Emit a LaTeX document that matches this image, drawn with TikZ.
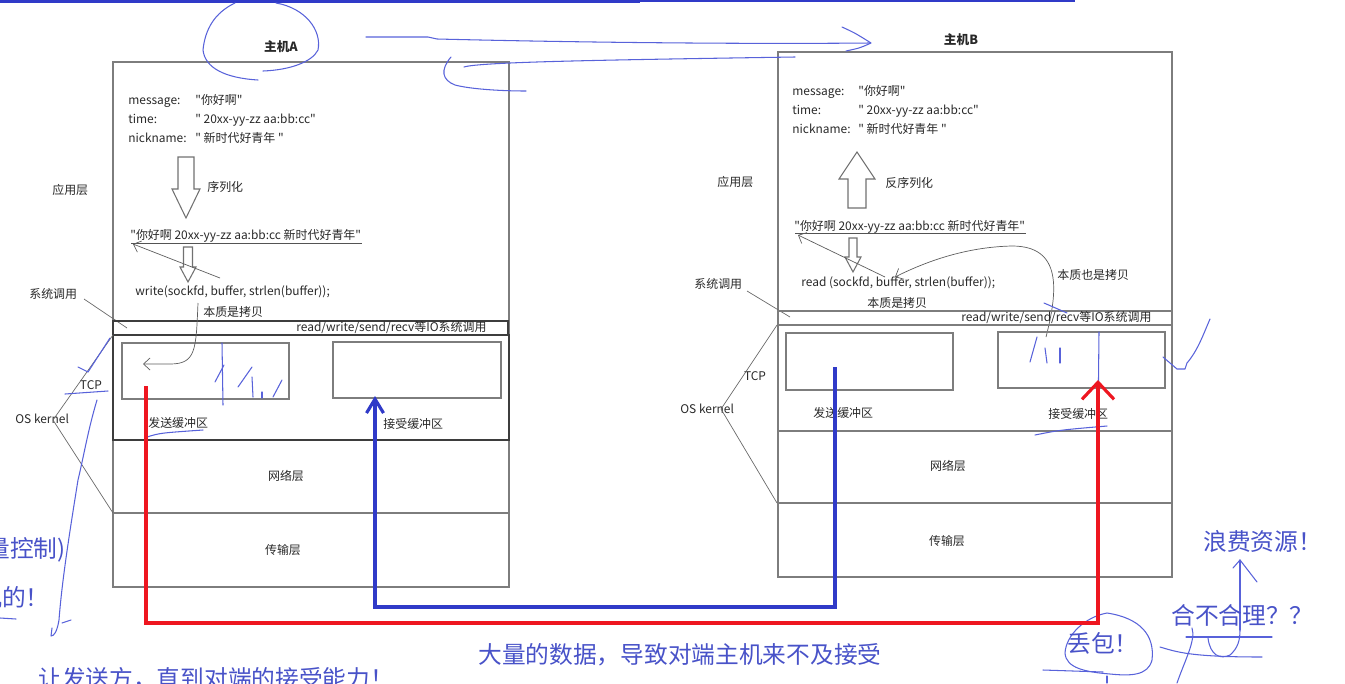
\documentclass[tikz,border=0pt]{standalone}
\usepackage{fontspec}
\setmainfont{Noto Sans CJK SC}
\newfontfamily\diagfont{Noto Sans CJK SC}
\usetikzlibrary{arrows.meta, calc}
\definecolor{cInk}{RGB}{40,40,40}
\definecolor{cFrame}{RGB}{125,125,125}
\definecolor{cPen}{RGB}{88,98,218}
\definecolor{cPenText}{RGB}{72,82,200}
\definecolor{cRed}{RGB}{238,22,32}
\definecolor{cBlue}{RGB}{48,58,200}
\tikzset{
	lbl/.style={anchor=west, inner sep=0pt, text height=5.4pt, text depth=1.4pt, text=cInk, font=\fontsize{6.8}{8}\diagfont},
	clbl/.style={lbl, anchor=center},
	hostlbl/.style={clbl, font=\fontsize{7.2}{8}\diagfont\bfseries},
	frame/.style={draw=cFrame, line width=0.6pt},
	band/.style={draw=cInk!90, line width=0.8pt},
	hollow/.style={draw=cFrame!90!black, fill=white, line width=0.6pt},
	thinarr/.style={-{Straight Barb[length=1.3mm,width=2.4mm]}, cInk!75, line width=0.4pt},
	pointer/.style={cInk!70, line width=0.4pt},
	% hand-drawn pen strokes and notes
	pen/.style={cPen, line width=0.6pt, line cap=round, line join=round},
	pentext/.style={anchor=west, inner sep=0pt, text height=10.5pt, text depth=2.8pt, text=cPenText, font=\fontsize{13.5}{15}\diagfont},
	redpipe/.style={cRed, line width=1.8pt, -{Straight Barb[length=3.4mm,width=6.4mm]}},
	bluepipe/.style={cBlue, line width=1.8pt, -{Straight Barb[length=2.8mm,width=3.4mm]}},
}
% hollow block arrow: centre x, tail y, head base y, tip y, half shaft, half head
\newcommand{\hollowarr}[6]{%
	\filldraw[hollow] ({#1-#5},#2) -- ({#1+#5},#2) -- ({#1+#5},#3) -- ({#1+#6},#3) -- (#1,#4) -- ({#1-#6},#3) -- ({#1-#5},#3) -- cycle;}

\begin{document}
\begin{tikzpicture}[x=0.02cm, y=-0.02cm]
	\useasboundingbox (0,0) rectangle (1345,683);
	\clip (0,0) rectangle (1345,683);
	\draw[cBlue, line width=1.8pt] (0,1) -- (640,1);
	\draw[cBlue, line width=1.2pt] (640,1) -- (1075,1);
	% ---------- host A ----------
	\node[hostlbl] (hostA) at (281,48) {主机A};
	\draw[frame] (113,62) rectangle (509,587);
	\node[lbl] (msgA) at (128,101) {message:};
	\node[lbl] (msgAv) at (195,101) {"你好啊"};
	\node[lbl] (timeA) at (128,120) {time:};
	\node[lbl] (timeAv) at (195,120) {" 20xx-yy-zz aa:bb:cc"};
	\node[lbl] (nickA) at (128,139) {nickname:};
	\node[lbl] (nickAv) at (195,139) {" 新时代好青年 "};
	\hollowarr{186}{157}{189}{218}{8}{14}
	\node[lbl] (serA) at (207,188) {序列化};
	\node[lbl] (appA) at (52,191) {应用层};
	\node[lbl] (strA) at (130,236) {"你好啊 20xx-yy-zz aa:bb:cc 新时代好青年"};
	\draw[cInk!80, line width=0.5pt] (131,243) -- (362,243);
	\hollowarr{188}{247}{267}{282}{4.5}{8}
	\node[lbl] (writeA) at (135,292) {write(sockfd, buffer, strlen(buffer));};
	\coordinate (wA) at (220,278);
	\coordinate (sA) at (133,244);
	\draw[thinarr] (wA) -- (sA);
	\node[lbl] (sysA) at (29,295) {系统调用};
	\draw[pointer] (84,299) -- (127,328);
	\node[lbl] (copyA) at (203,313) {本质是拷贝};
	\draw[band] (113,321) rectangle (508,335);
	\node[lbl] (ioA) at (296,328) {read/write/send/recv等IO系统调用};
	\draw[band] (113,335) rectangle (509,440);
	\draw[frame] (122,343) rectangle (289,399);
	\draw[frame] (333,342) rectangle (501,398);
	\node[lbl] (sbufA) at (148,424) {发送缓冲区};
	\node[lbl] (rbufA) at (383,425) {接受缓冲区};
	\coordinate (cpA) at (198,303);
	\coordinate (inA) at (143,364);
	\draw[thinarr] (cpA) .. controls (196,350) and (196,364) .. (170,364) -- (inA);
	\draw[frame] (113,513) -- (509,513);
	\node[clbl] (netA) at (286,477) {网络层};
	\node[clbl] (tpA) at (283,551) {传输层};
	\node[clbl] (tcpA) at (91,386) {TCP};
	\node[lbl] (osA) at (15,420) {OS kernel};
	\draw[pointer] (113,335) -- (53,420) -- (113,513);
	% ---------- host B ----------
	\node[hostlbl] (hostB) at (961,41) {主机B};
	\draw[frame] (778,52) rectangle (1172,577);
	\node[lbl] (msgB) at (792,92) {message:};
	\node[lbl] (msgBv) at (858,92) {"你好啊"};
	\node[lbl] (timeB) at (792,111) {time:};
	\node[lbl] (timeBv) at (858,111) {" 20xx-yy-zz aa:bb:cc"};
	\node[lbl] (nickB) at (792,130) {nickname:};
	\node[lbl] (nickBv) at (858,130) {" 新时代好青年 "};
	\hollowarr{857}{208}{179}{152}{9}{18}
	\node[lbl] (deserB) at (885,184) {反序列化};
	\node[lbl] (appB) at (717,183) {应用层};
	\node[lbl] (strB) at (794,227) {"你好啊 20xx-yy-zz aa:bb:cc 新时代好青年"};
	\draw[cInk!80, line width=0.5pt] (795,233) -- (1026,233);
	\hollowarr{853}{238}{257}{272}{4}{8}
	\node[lbl] (readB) at (801,283) {read (sockfd, buffer, strlen(buffer));};
	\coordinate (rB) at (885,277);
	\coordinate (sB) at (798,235);
	\draw[thinarr] (rB) -- (sB);
	\node[lbl] (sysB) at (694,285) {系统调用};
	\draw[pointer] (747,291) -- (790,317);
	\node[lbl] (copyB) at (867,304) {本质是拷贝};
	\node[lbl] (copyB2) at (1057,276) {本质也是拷贝};
	\coordinate (cpB) at (1046,337);
	\coordinate (inB) at (895,277);
	\draw[thinarr] (cpB) .. controls (1058,290) and (1062,246) .. (1012,246) .. controls (965,247) and (925,262) .. (inB);
	\draw[frame] (778,311) rectangle (1172,325);
	\node[lbl] (ioB) at (961,318) {read/write/send/recv等IO系统调用};
	\draw[frame] (786,333) rectangle (953,390);
	\draw[frame] (998,332) rectangle (1165,388);
	\node[lbl] (sbufB) at (813,414) {发送缓冲区};
	\node[lbl] (rbufB) at (1048,415) {接受缓冲区};
	\draw[frame] (778,431) -- (1172,431);
	\draw[frame] (778,503) -- (1172,503);
	\node[clbl] (netB) at (948,467) {网络层};
	\node[clbl] (tpB) at (947,542) {传输层};
	\node[clbl] (tcpB) at (755,377) {TCP};
	\node[lbl] (osB) at (680,410) {OS kernel};
	\draw[pointer] (777,325) -- (721,409) -- (777,503);
	% ---------- hand-drawn marks ----------
	\draw[pen] (235,3) .. controls (214,13) and (205,30) .. (203,50) .. controls (205,68) and (225,78) .. (258,80);
	\draw[pen] (263,71) .. controls (290,70) and (312,62) .. (318,50) .. controls (322,30) and (305,8) .. (276,3);
	\draw[pen] (366,37) -- (428,37) -- (437,39) .. controls (600,43) and (760,44) .. (870,43);
	\draw[pen] (842,27) .. controls (855,33) .. (871,43) .. controls (860,48) .. (846,51);
	\draw[pen] (464,67) .. controls (480,62) and (600,60) .. (795,57);
	\draw[pen] (451,57) .. controls (440,70) and (442,80) .. (455,85) .. controls (470,89) and (500,91) .. (526,91);
	\draw[pen] (222,343) -- (223,405);
	\draw[pen] (215,382) -- (224,365);
	\draw[pen] (238,387) -- (252,367);
	\draw[pen] (252,377) -- (253,397);
	\draw[pen] (262,392) -- (262,398);
	\draw[pen] (273,397) -- (282,380);
	\draw[pen] (147,437) .. controls (160,433) .. (203,430);
	\draw[pen] (110,338) -- (88,372);
	\draw[pen] (78,367) -- (88,372);
	\draw[pen] (65,394) -- (108,391);
	\draw[pen] (97,400) .. controls (88,430) and (84,455) .. (78,480) .. controls (70,530) and (62,580) .. (59,620) .. controls (57,632) and (54,636) .. (51,636) -- (52,628);
	\draw[pen] (62,623) -- (71,620);
	\draw[pen] (0,618) -- (16,619);
	\draw[pen] (1037,337) -- (1030,362);
	\draw[pen] (1045,348) -- (1047,363);
	\draw[pen] (1060,348) -- (1060,363);
	\draw[pen] (1044,303) -- (1067,313);
	\draw[pen] (1099,332) -- (1098,425);
	\draw[pen] (1035,435) .. controls (1060,430) .. (1107,426);
	\draw[pen] (1210,319) .. controls (1203,335) and (1198,350) .. (1187,363) -- (1185,369) -- (1177,369) -- (1163,357);
	\draw[pen] (1240,630) -- (1240,560);
	\draw[pen] (1233,568) -- (1240,560) -- (1257,582);
	\draw[pen] (1107,613) .. controls (1140,618) and (1155,635) .. (1152,660) .. controls (1148,676) and (1130,676) .. (1110,674) .. controls (1085,672) and (1066,668) .. (1065,653) .. controls (1066,635) and (1085,617) .. (1107,613);
	\draw[pen] (1043,670) -- (1103,672);
	\draw[pen] (1107,676) -- (1107,683);
	\draw[pen] (1160,647) .. controls (1177,652) and (1190,657) .. (1262,657);
	\draw[pen] (1186,637) -- (1272,637);
	\draw[pen] (1192,628) .. controls (1196,640) and (1185,660) .. (1177,683);
	\draw[pen] (1208,638) .. controls (1210,655) and (1220,660) .. (1230,655) .. controls (1238,648) and (1240,640) .. (1240,630);
	% ---------- data flow ----------
	\coordinate (redS) at (146,386);
	\coordinate (redE) at (1098,380);
	\coordinate (redLow) at (0,623);
	\draw[redpipe] (redS) -- (redS |- redLow) -- (redE |- redLow) -- (redE);
	\coordinate (bluS) at (835,367);
	\coordinate (bluE) at (375,396);
	\coordinate (bluLow) at (0,607);
	\draw[bluepipe] (bluS) -- (bluS |- bluLow) -- (bluE |- bluLow) -- (bluE);
	% ---------- notes ----------
	\node[pentext, anchor=east] (noteCtl) at (66,551) {量控制)};
	\node[pentext, anchor=east] (noteOk) at (50,600) {机的！};
	\node[pentext] (noteSend) at (38,681) {让发送方，直到对端的接受能力！};
	\node[pentext] (noteMuch) at (478,657) {大量的数据，导致对端主机来不及接受};
	\node[pentext] (noteWaste) at (1203,544) {浪费资源！};
	\node[pentext] (noteFair) at (1171,618) {合不合理？？};
	\node[pentext] (noteDrop) at (1067,646) {丢包！};
\end{tikzpicture}
\end{document}
